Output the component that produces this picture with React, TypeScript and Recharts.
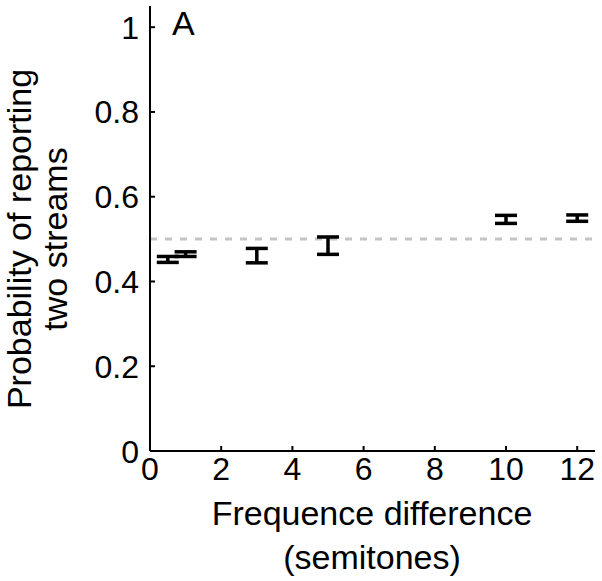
import React from "react";
import {
  ComposedChart,
  Scatter,
  ErrorBar,
  XAxis,
  YAxis,
  ReferenceLine,
} from "recharts";

const freqDiff = [0.5, 1, 3, 5, 10, 12];
const meanProb = [0.452, 0.4645, 0.461, 0.4845, 0.5465, 0.5495];
const errProb = [0.007, 0.0055, 0.017, 0.0205, 0.0095, 0.0075];
const xTicks = [0, 2, 4, 6, 8, 10, 12];
const yTicks = [0, 0.2, 0.4, 0.6, 0.8, 1];
const chanceLevel = 0.5;

const points = freqDiff.map((x, i) => ({ x, y: meanProb[i], err: errProb[i] }));

const FONT = "'Liberation Sans', Arial, Helvetica, sans-serif";

const YTick = (props: any) => {
  const { x, y, payload } = props;
  const axisX = x + 11;
  return (
    <g>
      <line x1={axisX} x2={axisX + 5} y1={y} y2={y} stroke="#000" strokeWidth={2} />
      <text x={x} y={y + 11.5} textAnchor="end" fontSize={32} fontFamily={FONT} fill="#000">
        {String(payload.value)}
      </text>
    </g>
  );
};

const XTick = (props: any) => {
  const { x, y, payload } = props;
  return (
    <g>
      <line x1={x} x2={x} y1={y} y2={y - 5} stroke="#000" strokeWidth={2} />
      <text x={x} y={y + 29} textAnchor="middle" fontSize={32} fontFamily={FONT} fill="#000">
        {String(payload.value)}
      </text>
    </g>
  );
};

export default function App() {
  return (
    <div style={{ position: "absolute", left: 0, top: 0, background: "#fff" }}>
      <ComposedChart
        width={602}
        height={581}
        data={points}
        margin={{ top: 6, right: 7, left: 0, bottom: 0 }}
      >
        <XAxis
          type="number"
          dataKey="x"
          domain={[0, 12.5]}
          ticks={xTicks}
          height={130}
          tickSize={0}
          tickMargin={0}
          tickLine={false}
          tick={<XTick />}
          axisLine={{ stroke: "#000", strokeWidth: 2 }}
          allowDataOverflow
        />
        <YAxis
          type="number"
          dataKey="y"
          domain={[0, 1.05]}
          ticks={yTicks}
          width={150}
          tickSize={0}
          tickMargin={11}
          tickLine={false}
          tick={<YTick />}
          axisLine={{ stroke: "#000", strokeWidth: 2 }}
          allowDataOverflow
        />
        <ReferenceLine
          y={chanceLevel}
          stroke="#c4c4c4"
          strokeWidth={3}
          strokeDasharray="7 8"
        />
        <Scatter
          data={points}
          dataKey="y"
          isAnimationActive={false}
          shape={() => <g />}
        >
          <ErrorBar
            dataKey="err"
            direction="y"
            width={11}
            stroke="#000"
            strokeWidth={3.5}
            isAnimationActive={false}
          />
        </Scatter>
        <text x={172} y={35} fontSize={34} fontFamily={FONT} fill="#000">
          A
        </text>
        <text x={372} y={525} textAnchor="middle" fontSize={34} fontFamily={FONT} fill="#000">
          Frequence difference
        </text>
        <text x={372} y={569} textAnchor="middle" fontSize={34} fontFamily={FONT} fill="#000">
          (semitones)
        </text>
        <text
          x={31}
          y={239}
          textAnchor="middle"
          fontSize={34}
          fontFamily={FONT}
          fill="#000"
          transform="rotate(-90 31 239)"
        >
          Probability of reporting
        </text>
        <text
          x={67}
          y={239}
          textAnchor="middle"
          fontSize={34}
          fontFamily={FONT}
          fill="#000"
          transform="rotate(-90 67 239)"
        >
          two streams
        </text>
      </ComposedChart>
    </div>
  );
}
